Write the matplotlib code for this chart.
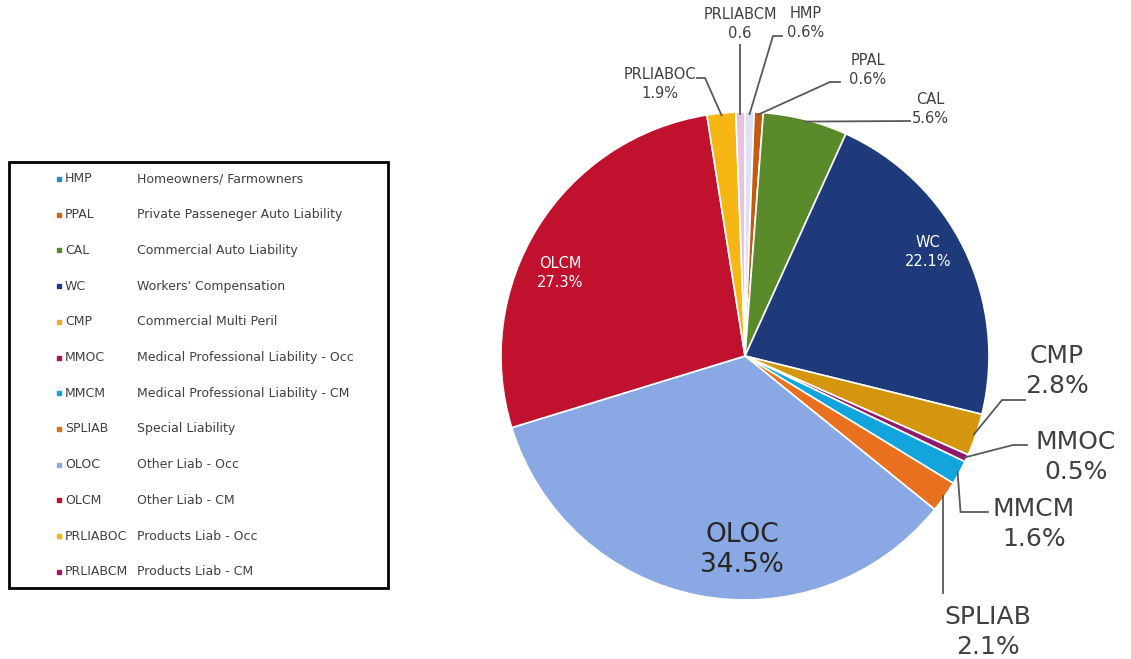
import matplotlib
matplotlib.use("Agg")
import numpy as np
import matplotlib.pyplot as plt
from matplotlib.patches import Rectangle

# data, clockwise from 12 o'clock
codes = ["HMP", "PPAL", "CAL", "WC", "CMP", "MMOC", "MMCM", "SPLIAB",
         "OLOC", "OLCM", "PRLIABOC", "PRLIABCM"]
shares = [0.6, 0.6, 5.6, 22.1, 2.8, 0.5, 1.6, 2.1, 34.5, 27.3, 1.9, 0.6]
pct_text = ["0.6%", "0.6%", "5.6%", "22.1%", "2.8%", "0.5%", "1.6%", "2.1%",
            "34.5%", "27.3%", "1.9%", "0.6"]
names = ["Homeowners/ Farmowners", "Private Passeneger Auto Liability",
         "Commercial Auto Liability", "Workers' Compensation",
         "Commercial Multi Peril", "Medical Professional Liability - Occ",
         "Medical Professional Liability - CM", "Special Liability",
         "Other Liab - Occ", "Other Liab - CM", "Products Liab - Occ",
         "Products Liab - CM"]
slice_colors = ["#dfe2f2", "#c55a11", "#5b8a2a", "#1f3a7a", "#d4960f", "#8e1a6e",
                "#12a5dd", "#e8701f", "#8aa8e4", "#c0112e", "#f6b714", "#e8c2e2"]
legend_colors = ["#2e8bc0", "#d0611e", "#5b8a2a", "#1f3a7a", "#f0a830", "#9e1a50",
                 "#1aa0d8", "#e07020", "#8faadc", "#c0112e", "#f5b40f", "#a0186a"]

W, H = 1131, 659
CX, CY, R = 745, 356, 244
fig = plt.figure(figsize=(W / 100, H / 100), dpi=100)
ax = fig.add_axes([0, 0, 1, 1])


def Y(y):
    # pixel row (from top) -> data y
    return H - y


wedges, _ = ax.pie(shares, colors=slice_colors, startangle=90, counterclock=False,
                   center=(CX, Y(CY)), radius=R,
                   wedgeprops=dict(edgecolor="white", linewidth=1.2))
ax.set_xlim(0, W)
ax.set_ylim(0, H)
ax.set_aspect("equal")
ax.axis("off")

# anchor point (pixel coords) on the rim of each slice
anchor = {}
for c, w in zip(codes, wedges):
    a = np.deg2rad((w.theta1 + w.theta2) / 2)
    anchor[c] = (CX + (R - 2) * np.cos(a), CY - (R - 2) * np.sin(a))

grey = "#404040"
lab = dict(zip(codes, pct_text))

# labels inside slices
ax.text(560, Y(273), "OLCM\n" + lab["OLCM"], color="white", fontsize=10.5,
        ha="center", va="center", linespacing=1.35)
ax.text(928, Y(252), "WC\n" + lab["WC"], color="white", fontsize=10.5,
        ha="center", va="center", linespacing=1.35)
ax.text(742, Y(550), "OLOC\n" + lab["OLOC"], color="#262626", fontsize=19,
        ha="center", va="center", linespacing=1.25)

# small outside labels
small = [("PRLIABCM", 740, 24), ("HMP", 806, 23), ("PPAL", 868, 70),
         ("CAL", 930, 109), ("PRLIABOC", 660, 84)]
for c, x, y in small:
    ax.text(x, Y(y), c + "\n" + lab[c], color=grey, fontsize=10.5,
            ha="center", va="center", linespacing=1.35)

# large outside labels
big = [("CMP", 1057, 371), ("MMOC", 1076, 457), ("MMCM", 1034, 524),
       ("SPLIAB", 988, 632)]
for c, x, y in big:
    ax.text(x, Y(y), c + "\n" + lab[c], color=grey, fontsize=18,
            ha="center", va="center", linespacing=1.3)

# leader lines: anchor -> elbow(s)
ax_, ay_ = anchor["MMCM"]
sx_, sy_ = anchor["SPLIAB"]
leaders = [
    [anchor["PRLIABCM"], (anchor["PRLIABCM"][0], 45)],
    [anchor["HMP"], (773, 36), (782, 36)],
    [anchor["PPAL"], (830, 82), (840, 82)],
    [anchor["CAL"], (910, 121)],
    [anchor["PRLIABOC"], (705, 78), (697, 78)],
    [anchor["CMP"], (1002, 400), (1025, 400)],
    [anchor["MMOC"], (1013, 445), (1027, 445)],
    [anchor["MMCM"], (ax_ + 3, 512), (988, 512)],
    [anchor["SPLIAB"], (sx_, 593)],
]
for pts in leaders:
    ax.plot([p[0] for p in pts], [Y(p[1]) for p in pts], color="#595959",
            lw=1.3, solid_joinstyle="miter")

# legend box
ax.add_patch(Rectangle((9, Y(588)), 379, 426, fill=False, edgecolor="black",
                       lw=2))
for i, (c, n, col) in enumerate(zip(codes, names, legend_colors)):
    y = Y(179 + i * 35.7)
    ax.plot(59, y, marker="s", ms=2.5, color=col, mec=col)
    ax.text(65, y, c, color=grey, fontsize=9, va="center")
    ax.text(137, y, n, color=grey, fontsize=9, va="center")

fig.savefig("out.png", dpi=100)
